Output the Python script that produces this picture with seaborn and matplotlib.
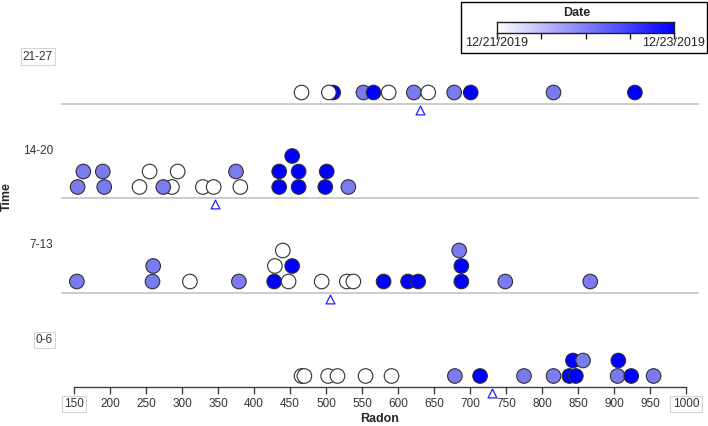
import numpy as np
import pandas as pd
import seaborn as sns
import matplotlib.pyplot as plt
from matplotlib.colors import LinearSegmentedColormap
from matplotlib.patches import Rectangle

# Radon readings per time group (days 21 = 12/21, 22 = 12/22, 23 = 12/23), stack level in the dot plot
radon_21_27 = [466, 510, 504, 552, 566, 587, 622, 642, 678, 701, 816, 929]
day_21_27 = [21, 23, 21, 22, 23, 21, 22, 21, 22, 23, 22, 23]
stack_21_27 = [0, 0, 0, 0, 0, 0, 0, 0, 0, 0, 0, 0]

radon_14_20 = [155, 163, 192, 190, 241, 255, 286, 274, 294, 329, 344, 375, 381,
               435, 435, 453, 462, 462, 499, 501, 531]
day_14_20 = [22, 22, 22, 22, 21, 21, 21, 22, 21, 21, 21, 22, 21,
             23, 23, 23, 23, 23, 23, 23, 22]
stack_14_20 = [0, 1, 0, 1, 0, 1, 0, 0, 1, 0, 0, 1, 0,
               0, 1, 2, 1, 0, 0, 1, 0]

radon_7_13 = [154, 259, 260, 311, 379, 448, 428, 429, 440, 453, 494, 529, 538,
              580, 614, 628, 688, 688, 685, 749, 867]
day_7_13 = [22, 22, 22, 21, 22, 21, 23, 21, 21, 23, 21, 21, 21,
            23, 23, 23, 23, 23, 22, 22, 22]
stack_7_13 = [0, 0, 1, 0, 0, 0, 0, 1, 2, 1, 0, 0, 0,
              0, 0, 0, 0, 1, 2, 0, 0]

radon_0_6 = [466, 470, 503, 516, 555, 591, 679, 714, 775, 816, 838, 847, 843,
             857, 905, 906, 924, 955]
day_0_6 = [21, 21, 21, 21, 21, 21, 22, 23, 22, 22, 23, 23, 23,
           22, 22, 23, 23, 22]
stack_0_6 = [0, 0, 0, 0, 0, 0, 0, 0, 0, 0, 0, 0, 1,
             1, 0, 1, 0, 0]

groups = ['21-27', '14-20', '7-13', '0-6']
radon = [radon_21_27, radon_14_20, radon_7_13, radon_0_6]
days = [day_21_27, day_14_20, day_7_13, day_0_6]
stacks = [stack_21_27, stack_14_20, stack_7_13, stack_0_6]
boxed = {'21-27', '0-6'}

x_ticks = list(range(150, 1001, 50))
date_labels = ['12/21/2019', '12/23/2019']

palette = {21: '#ffffff', 22: '#7b7bf0', 23: '#0000ff'}

sns.set_style('white')
plt.rcParams['font.family'] = ['Liberation Sans', 'DejaVu Sans']

W, H = 708, 426
fig, axes = plt.subplots(4, 1, figsize=(W / 100, H / 100), dpi=100, sharex=True)
fig.subplots_adjust(left=62 / W, right=698 / W, top=1 - 9 / H, bottom=1 - 387 / H, hspace=0)

px_per_unit = 15.5
panel_h = (387 - 9) / 4

for ax, g, r, d, s in zip(axes, groups, radon, days, stacks):
    df = pd.DataFrame({'Radon': r, 'Date': d, 'Level': s})
    df['y'] = (11 + df['Level'] * px_per_unit)
    sns.scatterplot(data=df, x='Radon', y='y', hue='Date', palette=palette,
                    s=110, edgecolor='#303030', linewidth=0.8, legend=False,
                    ax=ax, clip_on=False, zorder=3)
    # mean marker
    ax.scatter([np.mean(r)], [-6], marker='^', s=40, facecolor='white',
               edgecolor='#2020ff', linewidth=0.9, clip_on=False, zorder=4)
    ax.patch.set_visible(False)
    ax.set_ylim(0, panel_h)
    ax.set_xlim(150 - 12 / 0.72, 1000 + 12 / 0.72)
    ax.set_yticks([])
    ax.set_ylabel('')
    ax.set_xlabel('')
    for sp in ['top', 'right', 'left']:
        ax.spines[sp].set_visible(False)
    ax.spines['bottom'].set_color('#c4c4c4')
    ax.spines['bottom'].set_linewidth(1.2)
    ax.tick_params(axis='x', length=0)
    bbox = dict(boxstyle='square,pad=0.2', fc='white', ec='#d4d4d4', lw=0.8) if g in boxed else None
    ax.text(-9 / 636, 47 / panel_h, g, transform=ax.transAxes, ha='right', va='center',
            fontsize=8.5, color='#333333', bbox=bbox)

# bottom axis
ax = axes[-1]
ax.spines['bottom'].set_color('#404040')
ax.spines['bottom'].set_linewidth(1.0)
ax.spines['bottom'].set_bounds(150, 1000)
ax.set_xticks(x_ticks)
ax.set_xticklabels([str(t) for t in x_ticks])
ax.tick_params(axis='x', bottom=True, length=5, width=1, color='#404040', labelsize=8.5,
               labelcolor='#333333', pad=3)
for lab in ax.get_xticklabels():
    if lab.get_text() in ('150', '1000'):
        lab.set_bbox(dict(boxstyle='square,pad=0.2', fc='white', ec='#d4d4d4', lw=0.8))
ax.set_xlabel('Radon', fontsize=9, fontweight='bold', labelpad=2)

fig.text(7 / W, 1 - 197 / H, 'Time', rotation=90, ha='center', va='center',
         fontsize=9, fontweight='bold')

# date colour legend
fig.add_artist(Rectangle((461 / W, 1 - 52.5 / H), 245.5 / W, 50.5 / H,
                         transform=fig.transFigure, fill=False, ec='black', lw=1))
fig.text(577 / W, 1 - 13 / H, 'Date', ha='center', va='center', fontsize=9, fontweight='bold')
cax = fig.add_axes([497 / W, 1 - 33.3 / H, 177 / W, 11 / H])
cmap = LinearSegmentedColormap.from_list('date', ['#ffffff', '#0000ff'])
cax.imshow(np.linspace(0, 1, 256)[None, :], aspect='auto', cmap=cmap, extent=[0, 1, 0, 1])
cax.set_yticks([])
cax.set_xticks([0, 0.25, 0.5, 0.75, 1])
cax.set_xticklabels([])
cax.tick_params(axis='x', bottom=True, length=4, width=1, color='#202020')
for sp in cax.spines.values():
    sp.set_color('#202020')
    sp.set_linewidth(1)
fig.text(465 / W, 1 - 43 / H, date_labels[0], ha='left', va='center', fontsize=9, color='#222222')
fig.text(705 / W, 1 - 43 / H, date_labels[1], ha='right', va='center', fontsize=9, color='#222222')

fig.savefig('out.png', dpi=100)
